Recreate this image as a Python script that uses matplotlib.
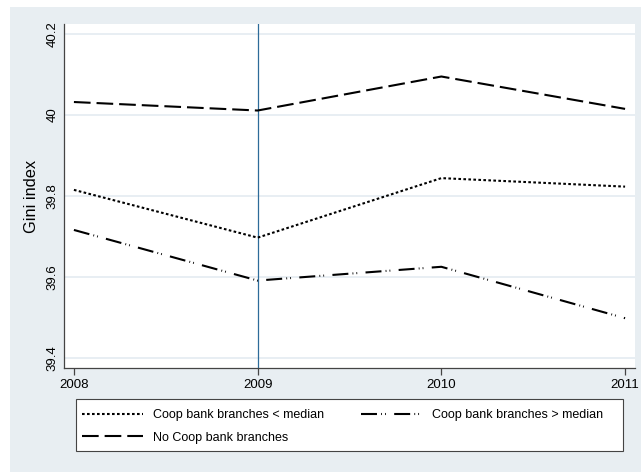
import matplotlib
matplotlib.use("Agg")
import matplotlib.pyplot as plt
from matplotlib.patches import Rectangle

plt.rcParams["font.family"] = ["Liberation Sans", "DejaVu Sans"]
plt.rcParams["lines.scale_dashes"] = False

years = [2008, 2009, 2010, 2011]
below_median = [39.815, 39.697, 39.844, 39.823]
above_median = [39.716, 39.591, 39.625, 39.498]
no_coop = [40.032, 40.011, 40.095, 40.015]

yticks = [39.4, 39.6, 39.8, 40.0, 40.2]
ytick_labels = ["39.4", "39.6", "39.8", "40", "40.2"]
event_year = 2009

W, H = 641, 472
fig = plt.figure(figsize=(W / 100, H / 100), dpi=100)
fig.patch.set_facecolor("white")

# light graph-region background
fig.add_artist(Rectangle((10 / W, 0), 1 - 10 / W, (H - 7) / H,
                         transform=fig.transFigure, facecolor="#e8eef2",
                         edgecolor="none", zorder=0))

ax = fig.add_axes([64 / W, 1 - 368 / H, (635 - 64) / W, (368 - 24) / H])
ax.set_facecolor("white")

for y in yticks:
    ax.axhline(y, color="#e2eaf0", lw=1.1, zorder=1)

ax.axvline(event_year, color="#2d6b99", lw=0.9, zorder=2)

lw = 1.5
l1, = ax.plot(years, below_median, color="black", lw=lw,
              linestyle=(0, (1.9, 1.7)), label="Coop bank branches < median", zorder=3)
l3, = ax.plot(years, no_coop, color="black", lw=lw,
              linestyle=(0, (12.0, 4.3)), label="No Coop bank branches", zorder=3)
l2, = ax.plot(years, above_median, color="black", lw=lw,
              linestyle=(0, (11.5, 3.0, 0.6, 2.2, 0.6, 6.0)),
              label="Coop bank branches > median", zorder=3)

ax.set_xlim(2007.946, 2011.054)
ax.set_ylim(39.375, 40.2247)

ax.set_xticks(years)
ax.set_xticklabels([str(y) for y in years], fontsize=9.5)
ax.set_yticks(yticks)
ax.set_yticklabels(ytick_labels, fontsize=9.5, rotation=90, va="center")
ax.tick_params(axis="x", length=5, width=0.9, color="#444444", pad=3)
ax.tick_params(axis="y", length=0, pad=4)

for side in ("top", "right"):
    ax.spines[side].set_visible(False)
for side in ("left", "bottom"):
    ax.spines[side].set_color("#444444")
    ax.spines[side].set_linewidth(0.9)

ax.set_ylabel("Gini index", fontsize=11.8, labelpad=5)

# legend box
fig.add_artist(Rectangle((76 / W, 1 - 451 / H), (623 - 76) / W, (451 - 399) / H,
                         transform=fig.transFigure, facecolor="white",
                         edgecolor="#444444", lw=0.8, zorder=4))
leg = fig.legend(handles=[l1, l3, l2], ncol=2, loc="upper left",
                 bbox_to_anchor=(82 / W, 1 - 409 / H),
                 borderaxespad=0, borderpad=0, fontsize=9, frameon=False,
                 handlelength=4.85, handletextpad=0.85, columnspacing=2.9,
                 labelspacing=0.85)
leg.set_zorder(5)

fig.savefig("out.png", dpi=100)
